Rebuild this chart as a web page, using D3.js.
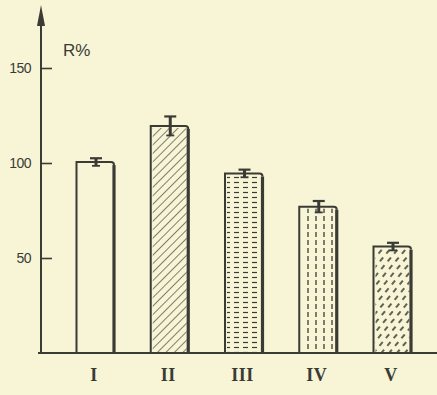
<!DOCTYPE html>
<html>
<head>
<meta charset="utf-8">
<script src="https://cdn.jsdelivr.net/npm/d3@7"></script>
<style>
  html, body { margin: 0; padding: 0; background: #f7f5d6; }
  svg { display: block; }
</style>
</head>
<body>
<svg id="chart" width="437" height="395"></svg>
<script>
// Relative response R (%) for five groups, with error bars
const groups = ["I", "II", "III", "IV", "V"];
const values = [100.5, 119.5, 94.5, 77, 56];
const errors = [2, 5, 2, 3, 2];
const fills  = ["none", "diag", "hdash", "vdash", "diagdash"];
const yTicks = [50, 100, 150];

const ink = "#3b3b36";
const paper = "#f7f5d6";

const svg = d3.select("#chart");
svg.append("rect").attr("width", 437).attr("height", 395).attr("fill", paper);

const y = d3.scaleLinear().domain([0, 150]).range([353, 68]);
const x = d3.scalePoint().domain(groups).range([96, 393]);
const barW = 39;

// hatch patterns
const defs = svg.append("defs");
const pDiag = defs.append("pattern").attr("id", "diag").attr("patternUnits", "userSpaceOnUse")
  .attr("width", 6).attr("height", 6).attr("patternTransform", "rotate(45)");
pDiag.append("line").attr("x1", 0).attr("y1", 0).attr("x2", 0).attr("y2", 6)
  .attr("stroke", ink).attr("stroke-width", 1.3);

const pH = defs.append("pattern").attr("id", "hdash").attr("patternUnits", "userSpaceOnUse")
  .attr("width", 9).attr("height", 5);
pH.append("line").attr("x1", 0).attr("y1", 2.5).attr("x2", 5).attr("y2", 2.5)
  .attr("stroke", ink).attr("stroke-width", 1.2);

const pV = defs.append("pattern").attr("id", "vdash").attr("patternUnits", "userSpaceOnUse")
  .attr("width", 8).attr("height", 8);
pV.append("line").attr("x1", 4).attr("y1", 0).attr("x2", 4).attr("y2", 5)
  .attr("stroke", ink).attr("stroke-width", 1.3);

// staggered slanted dashes
const pD = defs.append("pattern").attr("id", "diagdash").attr("patternUnits", "userSpaceOnUse")
  .attr("width", 12).attr("height", 10).attr("patternTransform", "rotate(40)");
pD.append("line").attr("x1", 3).attr("y1", 1).attr("x2", 3).attr("y2", 6)
  .attr("stroke", ink).attr("stroke-width", 1.6);
pD.append("line").attr("x1", 9).attr("y1", 6).attr("x2", 9).attr("y2", 11)
  .attr("stroke", ink).attr("stroke-width", 1.6);
pD.append("line").attr("x1", 9).attr("y1", -4).attr("x2", 9).attr("y2", 1)
  .attr("stroke", ink).attr("stroke-width", 1.6);

const data = groups.map((g, i) => ({ g, v: values[i], e: errors[i], f: fills[i] }));

// bars
const bars = svg.append("g").selectAll("g").data(data).join("g");
bars.append("rect")
  .attr("x", d => x(d.g) - barW / 2 + 2)
  .attr("y", d => y(d.v) + 2)
  .attr("width", barW - 5)
  .attr("height", d => y(0) - y(d.v) - 2)
  .attr("fill", d => d.f === "none" ? "none" : `url(#${d.f})`);
// outline: thin left and top edge, heavier right edge with a rounded corner
bars.append("path")
  .attr("fill", "none").attr("stroke", ink).attr("stroke-width", 2)
  .attr("d", d => {
    const l = x(d.g) - barW / 2, r = x(d.g) + barW / 2 - 1.5, t = y(d.v), b = y(0);
    return `M${l},${b} L${l},${t} L${r - 3},${t} Q${r},${t} ${r},${t + 3}`;
  });
bars.append("line")
  .attr("x1", d => x(d.g) + barW / 2 - 1.5).attr("x2", d => x(d.g) + barW / 2 - 1.5)
  .attr("y1", d => y(d.v) + 3).attr("y2", y(0))
  .attr("stroke", ink).attr("stroke-width", 3.2);

// error bars
const eb = svg.append("g").selectAll("g").data(data).join("g").attr("stroke", ink);
eb.append("line")
  .attr("x1", d => x(d.g)).attr("x2", d => x(d.g))
  .attr("y1", d => y(d.v + d.e)).attr("y2", d => y(d.v - d.e))
  .attr("stroke-width", 3);
eb.append("line")
  .attr("x1", d => x(d.g) - 6).attr("x2", d => x(d.g) + 6)
  .attr("y1", d => y(d.v + d.e)).attr("y2", d => y(d.v + d.e))
  .attr("stroke-width", 2.2);
eb.append("line")
  .attr("x1", d => x(d.g) - 4).attr("x2", d => x(d.g) + 4)
  .attr("y1", d => y(d.v - d.e)).attr("y2", d => y(d.v - d.e))
  .attr("stroke-width", 1.8);

// baseline
svg.append("line").attr("x1", 38).attr("x2", 437).attr("y1", y(0)).attr("y2", y(0))
  .attr("stroke", ink).attr("stroke-width", 2);

// y axis with arrow
svg.append("line").attr("x1", 41).attr("x2", 41).attr("y1", y(0) + 1).attr("y2", 18)
  .attr("stroke", ink).attr("stroke-width", 2);
svg.append("path").attr("d", "M41,5 L37,26 L45,26 Z").attr("fill", ink);

const yAxis = d3.axisRight(y).tickValues(yTicks).tickSize(11).tickFormat("");
const ya = svg.append("g").attr("transform", "translate(41,0)").call(yAxis);
ya.select(".domain").remove();
ya.selectAll(".tick line").attr("stroke", ink).attr("stroke-width", 1.6);

svg.append("g").selectAll("text").data(yTicks).join("text")
  .attr("x", 31).attr("y", d => y(d) + 5)
  .attr("text-anchor", "end")
  .attr("font-family", "Liberation Sans, Arial, sans-serif")
  .attr("font-size", 14).attr("fill", ink)
  .attr("letter-spacing", -0.5)
  .text(d => d);

svg.append("text").attr("x", 63).attr("y", 56)
  .attr("font-family", "Liberation Sans, Arial, sans-serif")
  .attr("font-size", 17).attr("fill", ink)
  .text("R%");

// category labels
svg.append("g").selectAll("text").data(groups).join("text")
  .attr("x", d => x(d) - 2).attr("y", 381)
  .attr("text-anchor", "middle")
  .attr("font-family", "Liberation Serif, Times New Roman, serif")
  .attr("font-weight", "bold")
  .attr("font-size", 18).attr("fill", ink)
  .attr("letter-spacing", 0.5)
  .text(d => d);
</script>
</body>
</html>
